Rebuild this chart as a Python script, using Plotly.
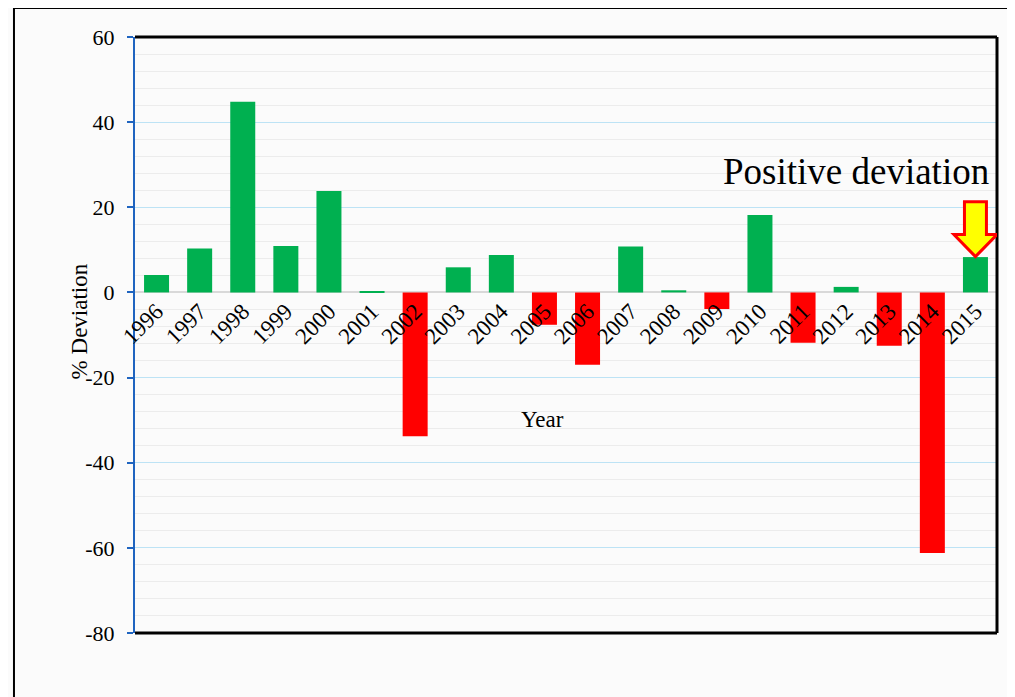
import plotly.graph_objects as go

years = list(range(1996, 2016))
deviation = [4.1, 10.3, 44.8, 10.9, 23.8, 0.3, -33.8, 5.9, 8.8, -7.6,
             -17.0, 10.8, 0.5, -3.9, 18.2, -11.8, 1.3, -12.5, -61.2, 8.3]
tick_labels = [str(y) for y in years]
y_ticks = [-80, -60, -40, -20, 0, 20, 40, 60]
y_tick_labels = ["-80", "-60", "-40", "-20", "0", "20", "40", "60"]

GREEN = "#00b050"
RED = "#ff0000"
colors = [GREEN if v >= 0 else RED for v in deviation]
FONT = "Liberation Serif, Times New Roman, serif"
BG = "#fbfbfb"

fig = go.Figure()
fig.add_trace(go.Bar(
    x=years, y=deviation, marker=dict(color=colors, line=dict(width=0)),
    width=0.58, showlegend=False, hoverinfo="x+y"))

ymin, ymax = -80, 60
zero_pos = (0 - ymin) / (ymax - ymin)

fig.update_layout(
    width=1007, height=689,
    margin=dict(l=127, r=18, t=29, b=64),
    paper_bgcolor=BG, plot_bgcolor=BG,
    font=dict(family=FONT, size=20, color="black"),
    xaxis=dict(
        range=[years[0] - 0.5, years[-1] + 0.5],
        tickmode="array", tickvals=years, ticktext=tick_labels,
        tickangle=-45, ticks="", showgrid=False, showline=False,
        zeroline=False, anchor="free", position=zero_pos,
        tickfont=dict(family=FONT, size=23, color="black"),
    ),
    yaxis=dict(
        range=[ymin, ymax], tickmode="array", tickvals=y_ticks, ticktext=y_tick_labels,
        showgrid=True, gridcolor="#bde3f5", gridwidth=1,
        minor=dict(dtick=4, tick0=0, showgrid=True, gridcolor="#ececec", gridwidth=1),
        zeroline=True, zerolinecolor="#d9d9d9", zerolinewidth=2,
        showline=True, linecolor="#1f64c0", linewidth=2,
        ticks="outside", ticklen=6, tickwidth=2, tickcolor="#1f64c0",
        ticklabelstandoff=8,
        tickfont=dict(family=FONT, size=22, color="black"),
    ),
)

# plot border (top, right, bottom) in black
for x0, y0, x1, y1 in [(0, 1, 1, 1), (1, 0, 1, 1), (0, 0, 1, 0)]:
    fig.add_shape(type="line", xref="paper", yref="paper",
                  x0=x0, y0=y0, x1=x1, y1=y1,
                  line=dict(color="black", width=3), layer="above")

# outer frame
fig.add_shape(type="rect", xref="paper", yref="paper",
              x0=-0.1404, y0=-0.12, x1=1.03, y1=1.0485,
              line=dict(color="black", width=2), layer="below")

# axis titles
fig.add_annotation(text="Year", xref="paper", yref="paper", x=0.473, y=0.359,
                   showarrow=False, font=dict(family=FONT, size=23, color="black"))
fig.add_annotation(text="% Deviation", xref="paper", yref="paper", x=-0.0812, y=0.522,
                   textangle=-90, showarrow=False,
                   font=dict(family=FONT, size=23, color="black"))

# callout
fig.add_annotation(text="Positive deviation", xref="paper", yref="paper",
                   x=0.993, y=0.7735, xanchor="right", yanchor="middle",
                   showarrow=False, font=dict(family=FONT, size=37, color="black"))

xc = years[-1]
tip = deviation[-1] + 0.1
hw_s, hw_h = 0.255, 0.5
y_top, y_head = tip + 12.9, tip + 5.2
path = (f"M {xc-hw_s},{y_top} L {xc+hw_s},{y_top} L {xc+hw_s},{y_head} "
        f"L {xc+hw_h},{y_head} L {xc},{tip} L {xc-hw_h},{y_head} "
        f"L {xc-hw_s},{y_head} Z")
fig.add_shape(type="path", xref="x", yref="y", path=path,
              fillcolor="#ffff00", line=dict(color="#ff0000", width=3),
              layer="above")

fig.write_html("out.html")
